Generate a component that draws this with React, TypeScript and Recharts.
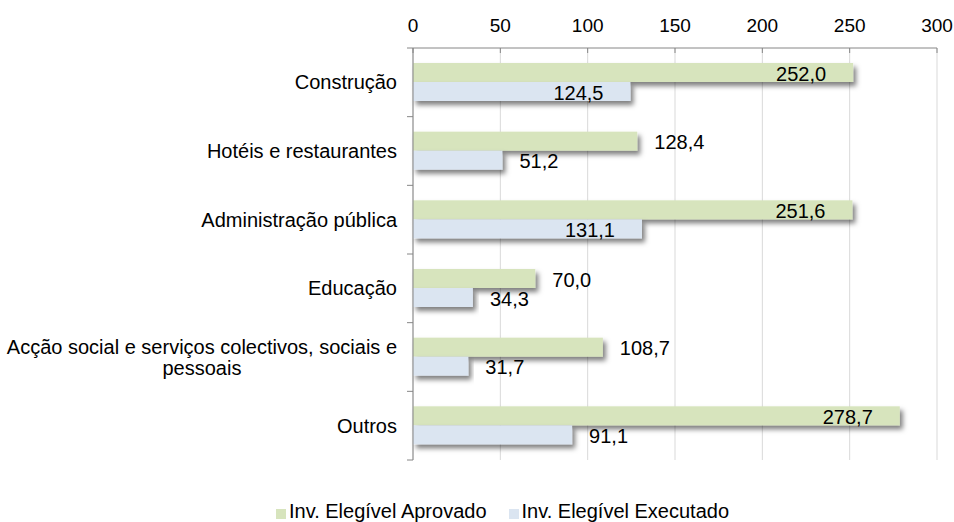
import { BarChart, Bar, XAxis, YAxis, CartesianGrid, Legend, LabelList } from "recharts"

const categories = [
  "Construção",
  "Hotéis e restaurantes",
  "Administração pública",
  "Educação",
  "Acção social e serviços colectivos, sociais e pessoais",
  "Outros",
]
const aprovado = [252.0, 128.4, 251.6, 70.0, 108.7, 278.7]
const executado = [124.5, 51.2, 131.1, 34.3, 31.7, 91.1]
const xTicks = [0, 50, 100, 150, 200, 250, 300]

const seriesNames = ["Inv. Elegível Aprovado", "Inv. Elegível Executado"]

const data = categories.map((name, i) => ({
  name,
  aprovado: aprovado[i],
  executado: executado[i],
}))

const FONT = "'Liberation Sans', Arial, sans-serif"
const FONT_SIZE = 20
const AXIS = "#868686"
const GREEN = "#d7e4bd"
const BLUE = "#dbe5f1"

const PLOT_TOP = 48
const PLOT_BOTTOM = 460
const BAND = (PLOT_BOTTOM - PLOT_TOP) / categories.length

const fmt = (v: number) => v.toFixed(1).replace(".", ",")

let ctx: CanvasRenderingContext2D | null = null
function textWidth(s: string) {
  if (!ctx) ctx = document.createElement("canvas").getContext("2d")
  if (!ctx) return s.length * FONT_SIZE * 0.5
  ctx.font = `${FONT_SIZE}px ${FONT}`
  return ctx.measureText(s).width
}

// break long category names over lines of at most ~46 chars
function wrap(s: string, max = 46) {
  const words = s.split(" ")
  const lines: string[] = []
  let cur = ""
  for (const w of words) {
    const next = cur ? cur + " " + w : w
    if (next.length > max && cur) {
      lines.push(cur)
      cur = w
    } else cur = next
  }
  lines.push(cur)
  return lines
}

function CategoryTick(props: any) {
  const { x, y, payload, index } = props
  const lines = wrap(payload.value)
  const right = x - 16
  const lh = 21
  let label
  if (lines.length === 1) {
    label = (
      <text x={right} y={y} dy="0.35em" textAnchor="end" fontFamily={FONT} fontSize={FONT_SIZE} fill="#000">
        {lines[0]}
      </text>
    )
  } else {
    const cx = right - textWidth(lines[0]) / 2
    const y0 = y - ((lines.length - 1) * lh) / 2
    label = (
      <text textAnchor="middle" fontFamily={FONT} fontSize={FONT_SIZE} fill="#000">
        {lines.map((l, i) => (
          <tspan key={i} x={cx} y={y0 + i * lh} dy="0.35em">
            {l}
          </tspan>
        ))}
      </text>
    )
  }
  return (
    <g>
      {index === 0 && <line x1={x - 6} x2={x} y1={y - BAND / 2} y2={y - BAND / 2} stroke={AXIS} />}
      <line x1={x - 6} x2={x} y1={y + BAND / 2} y2={y + BAND / 2} stroke={AXIS} />
      {label}
    </g>
  )
}

function ValueTick(props: any) {
  const { x, y, payload } = props
  return (
    <g>
      <line x1={x} x2={x} y1={y} y2={y + 5} stroke={AXIS} />
      <text x={x} y={y - 16} textAnchor="middle" fontFamily={FONT} fontSize={19} fill="#000">
        {payload.value}
      </text>
    </g>
  )
}

function ShadowBar(props: any) {
  const { x, y, width, height, fill } = props
  return <rect x={x} y={y} width={width} height={height} fill={fill} filter="url(#barShadow)" />
}

// labels sit inside the bar end for long bars, just past it for short ones
function makeLabel(insideFrom: number) {
  return (props: any) => {
    const { x, y, width, height, value } = props
    const inside = value >= insideFrom
    const tx = inside ? x + width - 27 : x + width + 17
    return (
      <text
        x={tx}
        y={y + height / 2 + 1}
        dy="0.35em"
        textAnchor={inside ? "end" : "start"}
        fontFamily={FONT}
        fontSize={FONT_SIZE}
        fill="#000"
      >
        {fmt(value)}
      </text>
    )
  }
}

function LegendContent(props: any) {
  const { payload } = props
  return (
    <div style={{ display: "flex", justifyContent: "center", gap: 22, paddingLeft: 68, fontFamily: FONT, fontSize: FONT_SIZE, color: "#000", lineHeight: "22px" }}>
      {payload.map((p: any) => (
        <span key={p.value} style={{ display: "flex", alignItems: "center" }}>
          <span style={{ width: 10, height: 10, background: p.color, marginRight: 3, marginTop: 5 }} />
          {p.value}
        </span>
      ))}
    </div>
  )
}

export default function App() {
  return (
    <div style={{ position: "absolute", left: 0, top: 0, width: 954, height: 522, background: "#fff", fontFamily: FONT }}>
      <BarChart
        width={954}
        height={522}
        data={data}
        layout="vertical"
        margin={{ top: 0, right: 17, bottom: 40, left: 0 }}
        barSize={19}
        barGap={0}
      >
        <defs>
          <filter id="barShadow" x="-5%" y="-30%" width="115%" height="200%">
            <feDropShadow dx="3" dy="4" stdDeviation="2.5" floodColor="#000" floodOpacity="0.5" />
          </filter>
        </defs>
        <CartesianGrid horizontal={false} stroke="#d9d9d9" />
        <XAxis
          type="number"
          orientation="top"
          domain={[0, 300]}
          ticks={xTicks}
          height={PLOT_TOP}
          tickSize={0}
          tickMargin={0}
          tickLine={false}
          axisLine={{ stroke: AXIS }}
          tick={<ValueTick />}
        />
        <YAxis
          type="category"
          dataKey="name"
          width={413}
          tickSize={0}
          tickMargin={0}
          tickLine={false}
          axisLine={{ stroke: AXIS }}
          tick={<CategoryTick />}
          interval={0}
        />
        <Legend verticalAlign="bottom" wrapperStyle={{ bottom: 0 }} content={<LegendContent />} />
        <Bar dataKey="aprovado" name={seriesNames[0]} fill={GREEN} shape={<ShadowBar />} isAnimationActive={false}>
          <LabelList dataKey="aprovado" content={makeLabel(200)} />
        </Bar>
        <Bar dataKey="executado" name={seriesNames[1]} fill={BLUE} shape={<ShadowBar />} isAnimationActive={false}>
          <LabelList dataKey="executado" content={makeLabel(100)} />
        </Bar>
      </BarChart>
    </div>
  )
}
